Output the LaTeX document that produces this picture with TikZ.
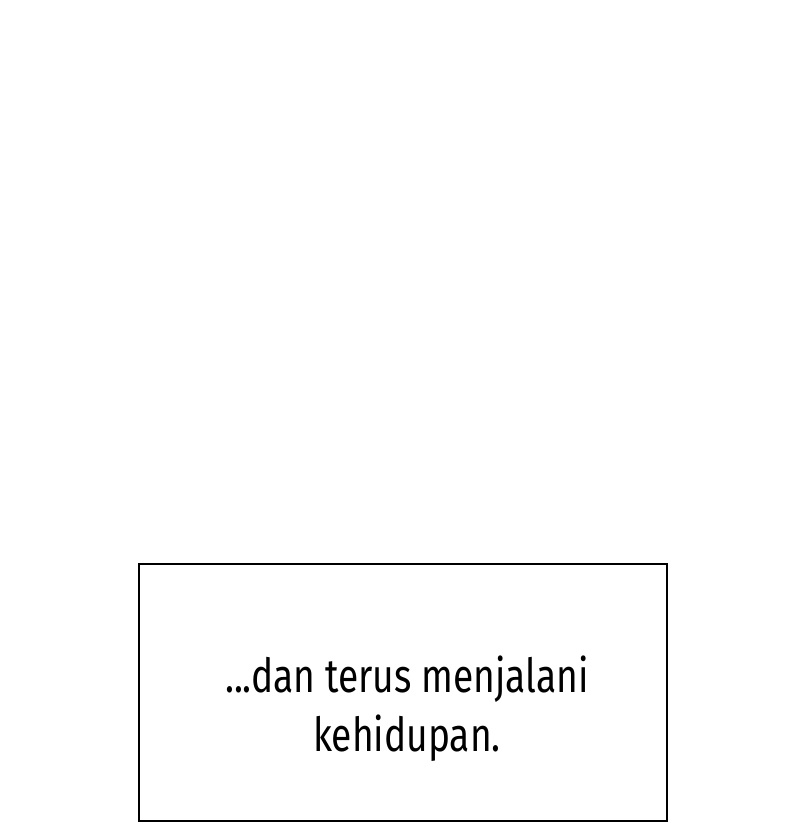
\documentclass[tikz,border=0pt]{standalone}
\usepackage{fontspec}
\setmainfont[FakeStretch=0.79]{Fira Sans}
\usetikzlibrary{positioning}

\begin{document}
\begin{tikzpicture}[x=1pt, y=1pt, text=black,
    captionbox/.style={draw=black, line width=2pt, fill=white},
    captiontext/.style={align=center, font=\fontsize{47}{59}\selectfont}]
\useasboundingbox (0,0) rectangle (800,840);
\fill[white] (0,0) rectangle (800,840);

\path (138,18) node (caption) [captionbox, anchor=south west,
    minimum width=528pt, minimum height=257pt, inner sep=0pt] {};

\path (407,147) node (line1) [captiontext, anchor=base]
  {...dan terus menjalani};
\path (line1.base)+(0,-59) node (line2) [captiontext, anchor=base]
  {kehidupan.};

\end{tikzpicture}
\end{document}
